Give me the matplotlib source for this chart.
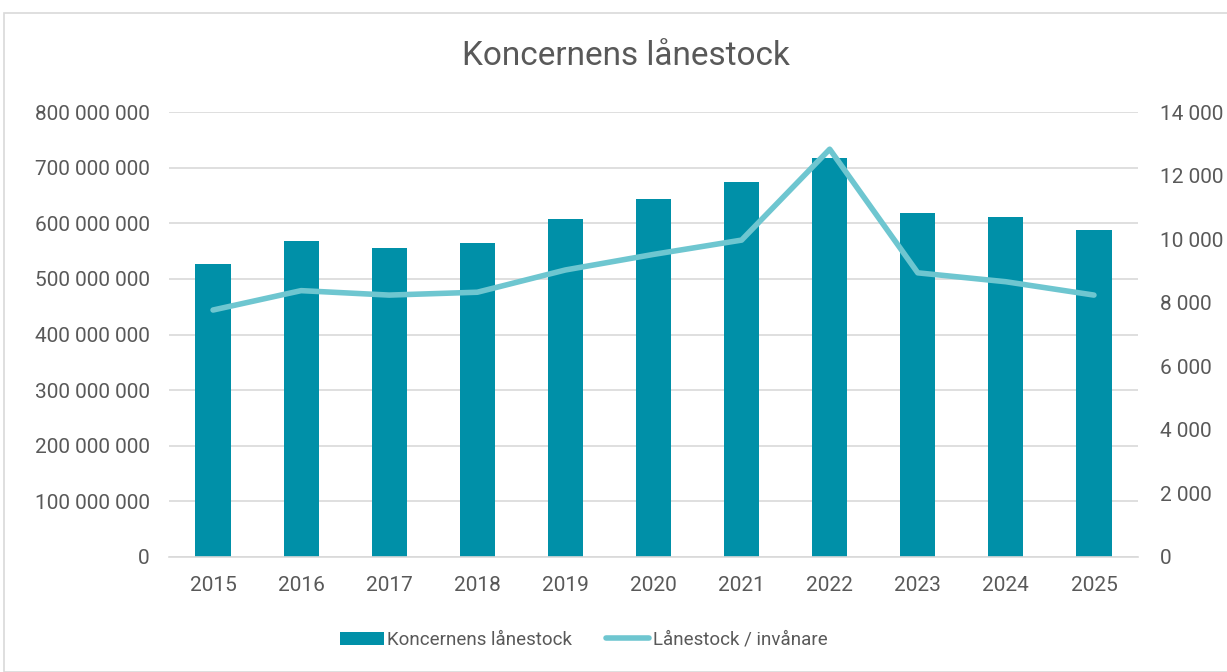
import matplotlib.pyplot as plt
import matplotlib.ticker as mticker
from matplotlib.patches import Rectangle
import numpy as np

years = ['2015', '2016', '2017', '2018', '2019', '2020', '2021', '2022', '2023', '2024', '2025']
lanestock = [527e6, 568e6, 556e6, 564e6, 607e6, 643e6, 674e6, 717e6, 618e6, 611e6, 588e6]
per_invanare = [7770, 8380, 8240, 8330, 9030, 9520, 9970, 12830, 8940, 8660, 8240]

bar_color = '#0090A8'
line_color = '#6EC6D0'
text_color = '#595959'
grid_color = '#D9D9D9'

plt.rcParams['font.family'] = ['Roboto', 'DejaVu Sans']


def space_fmt(v, pos):
    return f"{int(round(v)):,}".replace(',', ' ')


fig = plt.figure(figsize=(12.27, 6.72), dpi=100)
fig.patches.append(Rectangle((4 / 1227, 0), 1.1, (672 - 13) / 672, transform=fig.transFigure,
                             fill=False, edgecolor='#D9D9D9', linewidth=1.2))

ax = fig.add_axes([169 / 1227, (672 - 557) / 672, (1138 - 169) / 1227, (557 - 112) / 672])
x = np.arange(len(years))
ax.bar(x, lanestock, width=0.4, color=bar_color, label='Koncernens lånestock', zorder=2)
ax.set_ylim(0, 800e6)
ax.set_xlim(-0.5, len(years) - 0.5)
ax.yaxis.set_major_locator(mticker.MultipleLocator(100e6))
ax.yaxis.set_major_formatter(mticker.FuncFormatter(space_fmt))
ax.set_xticks(x)
ax.set_xticklabels(years)
ax.grid(axis='y', color=grid_color, linewidth=1.2, zorder=0)
ax.set_axisbelow(True)
for s in ['top', 'right', 'left']:
    ax.spines[s].set_visible(False)
ax.spines['bottom'].set_color(grid_color)
ax.spines['bottom'].set_linewidth(1.2)
ax.tick_params(axis='both', length=0, labelsize=15, labelcolor=text_color)
ax.tick_params(axis='y', pad=14)
ax.tick_params(axis='x', pad=14)

ax2 = ax.twinx()
ax2.plot(x, per_invanare, color=line_color, linewidth=4, solid_capstyle='round',
         label='Lånestock / invånare', zorder=3)
ax2.set_ylim(0, 14000)
ax2.yaxis.set_major_locator(mticker.MultipleLocator(2000))
ax2.yaxis.set_major_formatter(mticker.FuncFormatter(space_fmt))
for s in ['top', 'right', 'left', 'bottom']:
    ax2.spines[s].set_visible(False)
ax2.tick_params(axis='y', length=0, labelsize=15, labelcolor=text_color, pad=16)

fig.text(626 / 1227, 1 - 56 / 672, 'Koncernens lånestock', ha='center', va='center',
         fontsize=24, color=text_color)

h1, l1 = ax.get_legend_handles_labels()
h2, l2 = ax2.get_legend_handles_labels()
fig.legend(h1 + h2, l1 + l2, loc='center', bbox_to_anchor=(584 / 1227, 1 - 640 / 672),
           ncol=2, frameon=False, fontsize=13.5, labelcolor=text_color,
           handlelength=2.3, handletextpad=0.2, columnspacing=1.8)

fig.savefig('out.png', dpi=100)
